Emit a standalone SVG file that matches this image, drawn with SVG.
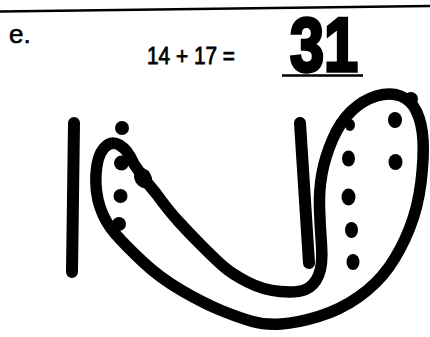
<svg xmlns="http://www.w3.org/2000/svg" width="430" height="337" viewBox="0 0 430 337">
<style>
.ink{stroke:#000;fill:none;stroke-linecap:round;stroke-linejoin:round}
.dot{fill:#000}
.hand{font-family:"Liberation Sans","DejaVu Sans",sans-serif;fill:#000}
</style>
<rect width="430" height="337" fill="#fff"/>
<g id="header">
<line x1="0" y1="11.5" x2="430" y2="6" stroke="#000" stroke-width="2.5"/>
<text class="hand" x="9" y="43" font-size="26" stroke="#000" stroke-width="0.6">e.</text>
<text class="hand" x="147" y="64" font-size="24" stroke="#000" stroke-width="0.8" textLength="88" lengthAdjust="spacingAndGlyphs">14 + 17 =</text>
<line x1="282" y1="75.5" x2="363" y2="75.5" stroke="#000" stroke-width="2.5"/>
<text class="hand" x="290" y="71" font-size="76" font-weight="bold" stroke="#000" stroke-width="3.5" textLength="68" lengthAdjust="spacingAndGlyphs">31</text>
</g>
<g id="tens">
<line class="ink" x1="74" y1="123" x2="72" y2="272" stroke-width="12"/>
<line class="ink" x1="300" y1="123" x2="309" y2="263" stroke-width="12"/>
</g>
<g id="ones">
<circle class="dot" cx="122" cy="128" r="7"/>
<circle class="dot" cx="121.5" cy="163" r="7.5"/>
<circle class="dot" cx="120.5" cy="196" r="7"/>
<circle class="dot" cx="119" cy="224" r="7"/>
<ellipse class="dot" cx="350" cy="125" rx="5" ry="6"/>
<ellipse class="dot" cx="348.5" cy="158.5" rx="6.5" ry="8"/>
<ellipse class="dot" cx="348.5" cy="197" rx="7" ry="8.5"/>
<ellipse class="dot" cx="351.5" cy="230" rx="6.5" ry="8"/>
<ellipse class="dot" cx="353" cy="262" rx="6.5" ry="8"/>
<ellipse class="dot" cx="395" cy="120" rx="7" ry="8"/>
<ellipse class="dot" cx="395.5" cy="162" rx="7" ry="8"/>
</g>
<g id="loop">
<path class="ink" stroke-width="11.5" d="M145,180 L134,164 Q128,150 119.5,145 Q111,140 104,148 Q97,156 96,174 Q95,192 100,207 Q105,222 115,233.5 Q125,245 142.5,261.5 Q160,278 182.5,291 Q205,304 222.5,311 Q240,318 252.5,321.5 Q265,325 281,324 Q297,323 318.5,316.5 Q340,310 358.5,297 Q377,284 389,267 Q401,250 409.5,228.5 Q418,207 421,182 Q424,157 423,140 Q422,123 416.5,111.5 Q411,100 400.5,96 Q390,92 376.5,96 Q363,100 351.5,111 Q340,122 332.5,139.5 Q325,157 322,173.5 Q319,190 319.5,207.5 Q320,225 321.5,245 Q323,265 318.5,275.5 Q314,286 305.5,289.5 Q297,293 280,291.5 Q263,290 247.5,282 Q232,274 223.5,266.5 Q215,259 202.5,246.5 Q190,234 179,222 Q168,210 156.5,194 L145,180"/>
<ellipse class="dot" cx="143" cy="178" rx="8.5" ry="10.5" transform="rotate(-30 143 178)"/>
<circle class="dot" cx="411" cy="99" r="7"/>
</g>
</svg>
